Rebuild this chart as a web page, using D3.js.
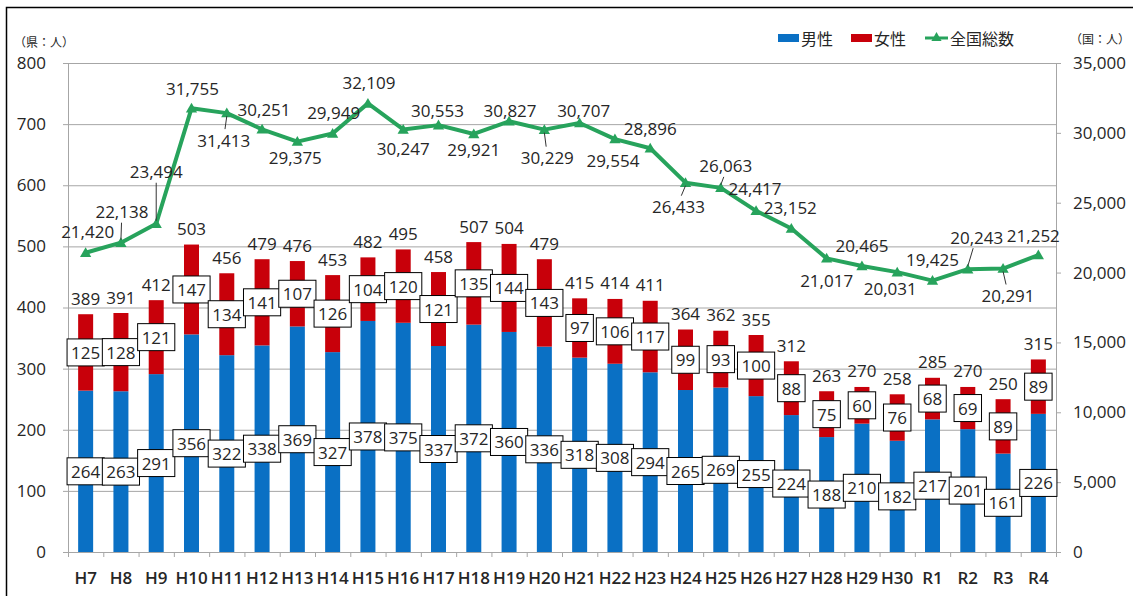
<!DOCTYPE html>
<html><head><meta charset="utf-8">
<script src="https://d3js.org/d3.v7.min.js"></script>
<style>
body{margin:0;background:#fff;}
text{font-family:"Open Sans","Noto Sans CJK JP",sans-serif;fill:#262626;}
.jp{font-family:"Noto Sans CJK JP",sans-serif;}
</style></head>
<body>
<svg width="1133" height="596"></svg>
<script>
// data
const years = ["H7","H8","H9","H10","H11","H12","H13","H14","H15","H16","H17","H18","H19","H20",
  "H21","H22","H23","H24","H25","H26","H27","H28","H29","H30","R1","R2","R3","R4"];
const male = [264,263,291,356,322,338,369,327,378,375,337,372,360,336,318,308,294,265,269,255,224,188,210,182,217,201,161,226];
const female = [125,128,121,147,134,141,107,126,104,120,121,135,144,143,97,106,117,99,93,100,88,75,60,76,68,69,89,89];
const total = [389,391,412,503,456,479,476,453,482,495,458,507,504,479,415,414,411,364,362,355,312,263,270,258,285,270,250,315];
const national = [21420,22138,23494,31755,31413,30251,29375,29949,32109,30247,30553,29921,30827,30229,30707,29554,28896,26433,26063,24417,23152,21017,20465,20031,19425,20243,20291,21252];
const leftTicks = [0,100,200,300,400,500,600,700,800];
const rightTicks = [0,5000,10000,15000,20000,25000,30000,35000];

// where each national label sits relative to its point (layout only)
const natShift = [[2,-21],[1,-31],[0,-52],[1,-20],[-3,27],[2,-20],[-2,16],[1,-21],[1,-21],[0,19],[-1,-15],[0,16],[1,-11],[3,28],
  [4,-12],[-2,21],[0,-20],[-7,24],[5,-22],[-1,-22],[-1,-21],[0,22],[0,-21],[-7,16],[0,-21],[9,-32],[5,27],[-5,-20]];
const leaders = [1,2,4,13,17,18,25,26];

const blue = "#0a70c4", red = "#c8000a", green = "#27a35c";
const L = 68, R = 1056, T = 63, B = 552;
const svg = d3.select("svg");

svg.append("rect").attr("x",6.5).attr("y",7.5).attr("width",1200).attr("height",700)
  .attr("fill","none").attr("stroke","#000").attr("stroke-width",1.5);

const x = d3.scaleBand().domain(years).range([L,R]).paddingInner(0.575).paddingOuter(0.2875);
const xb = d3.scaleLinear().domain([0,years.length]).range([L,R]);
const yL = d3.scaleLinear().domain([0,800]).range([B,T]);
const yR = d3.scaleLinear().domain([0,35000]).range([B,T]);

// grid
svg.append("g").selectAll("line").data(leftTicks.slice(1)).join("line")
  .attr("x1",L).attr("x2",R).attr("y1",d=>yL(d)+0.5).attr("y2",d=>yL(d)+0.5)
  .attr("stroke","#a6a6a6").attr("stroke-width",1);

// axes
const gl = svg.append("g").attr("transform",`translate(${L},0)`)
  .call(d3.axisLeft(yL).tickValues(leftTicks).tickSize(5).tickSizeOuter(0).tickPadding(7));
const gr = svg.append("g").attr("transform",`translate(${R},0)`)
  .call(d3.axisRight(yR).tickValues(rightTicks).tickSize(5).tickSizeOuter(0).tickPadding(12).tickFormat(d3.format(",")));
const gb = svg.append("g").attr("transform",`translate(0,${B})`)
  .call(d3.axisBottom(xb).tickValues(d3.range(years.length+1)).tickSize(5).tickSizeOuter(0).tickFormat(""));
[gl,gr,gb].forEach(g=>{
  g.selectAll(".domain").attr("stroke","#a6a6a6");
  g.selectAll(".tick line").attr("stroke","#a6a6a6");
  g.selectAll("text").style("font-size","17px").attr("fill","#262626");
});
gl.selectAll("text").attr("x",-22);

svg.append("g").selectAll("text").data(years).join("text")
  .attr("x",d=>x(d)+x.bandwidth()/2).attr("y",584).attr("text-anchor","middle")
  .style("font-size","17px").style("font-weight","600").text(d=>d);

// bars
const bars = svg.append("g");
bars.selectAll(".m").data(years).join("rect").attr("class","m")
  .attr("x",d=>x(d)).attr("width",x.bandwidth())
  .attr("y",(d,i)=>yL(male[i])).attr("height",(d,i)=>B-yL(male[i])).attr("fill",blue);
bars.selectAll(".f").data(years).join("rect").attr("class","f")
  .attr("x",d=>x(d)).attr("width",x.bandwidth())
  .attr("y",(d,i)=>yL(male[i]+female[i])).attr("height",(d,i)=>yL(male[i])-yL(male[i]+female[i])).attr("fill",red);

// national line
const cx = (d,i)=>x(years[i])+x.bandwidth()/2;
svg.append("path").datum(national)
  .attr("d",d3.line().x(cx).y(d=>yR(d)))
  .attr("fill","none").attr("stroke",green).attr("stroke-width",4).attr("stroke-linejoin","round");
svg.append("g").selectAll("path").data(national).join("path")
  .attr("transform",(d,i)=>`translate(${cx(d,i)},${yR(d)+1})`)
  .attr("d",d3.symbol().type(d3.symbolTriangle).size(55)).attr("fill",green);

// leader lines
svg.append("g").selectAll("line").data(leaders).join("line")
  .attr("x1",i=>cx(0,i)).attr("y1",i=>yR(national[i])+(natShift[i][1]<0?-3:3))
  .attr("x2",i=>cx(0,i)+natShift[i][0]*0.6).attr("y2",i=>yR(national[i])+natShift[i][1]+(natShift[i][1]<0?11:-11))
  .attr("stroke","#333").attr("stroke-width",1);

svg.append("g").selectAll("text").data(national).join("text")
  .attr("x",(d,i)=>cx(d,i)+natShift[i][0]).attr("y",(d,i)=>yR(d)+natShift[i][1])
  .attr("text-anchor","middle").attr("dominant-baseline","central")
  .style("font-size","17px").text(d3.format(","));

// total labels
svg.append("g").selectAll("text").data(total).join("text")
  .attr("x",(d,i)=>cx(d,i)).attr("y",d=>yL(d)-16)
  .attr("text-anchor","middle").attr("dominant-baseline","central")
  .style("font-size","17px").text(d=>d);

// boxed segment labels
function boxed(vals, mid){
  const g = svg.append("g");
  vals.forEach((v,i)=>{
    const cy = yL(mid(i)), px = cx(v,i);
    const r = g.append("rect").attr("fill","#fff").attr("stroke","#000").attr("stroke-width",1);
    const t = g.append("text").attr("x",px).attr("y",cy).attr("text-anchor","middle")
      .attr("dominant-baseline","central").style("font-size","17px").text(v);
    const w = t.node().getComputedTextLength()+8;
    r.attr("x",px-w/2).attr("y",cy-13.5).attr("width",w).attr("height",27);
  });
}
boxed(male, i=>male[i]/2);
boxed(female, i=>male[i]+female[i]/2);

// legend
const lg = svg.append("g").attr("transform","translate(0,38)");
lg.append("rect").attr("x",778).attr("y",-4).attr("width",21).attr("height",8).attr("fill",blue);
lg.append("text").attr("class","jp").attr("x",801).attr("dominant-baseline","central").style("font-size","16px").text("男性");
lg.append("rect").attr("x",851).attr("y",-4).attr("width",21).attr("height",8).attr("fill",red);
lg.append("text").attr("class","jp").attr("x",874).attr("dominant-baseline","central").style("font-size","16px").text("女性");
lg.append("line").attr("x1",925).attr("x2",948).attr("y1",0).attr("y2",0).attr("stroke",green).attr("stroke-width",3);
lg.append("path").attr("transform","translate(936.5,0)").attr("d",d3.symbol().type(d3.symbolTriangle).size(45)).attr("fill",green);
lg.append("text").attr("class","jp").attr("x",950).attr("dominant-baseline","central").style("font-size","16px").text("全国総数");

svg.append("text").attr("class","jp").attr("x",14).attr("y",41).attr("dominant-baseline","central")
  .style("font-size","12px").text("（県：人）");
svg.append("text").attr("class","jp").attr("x",1070).attr("y",38).attr("dominant-baseline","central")
  .style("font-size","12px").text("（国：人）");
</script>
</body></html>
